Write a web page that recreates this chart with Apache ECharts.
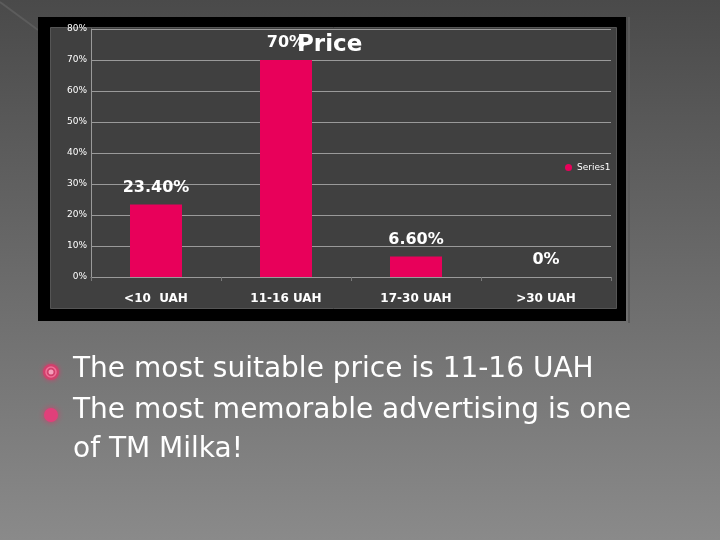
<!DOCTYPE html>
<html>
<head>
<meta charset="utf-8">
<script src="https://cdn.jsdelivr.net/npm/echarts@6/dist/echarts.min.js"></script>
<style>
html,body{margin:0;padding:0;background:#5a5a5a;}
#chart{width:720px;height:540px;}
</style>
</head>
<body>
<div id="chart"></div>
<script>
var categories = ['<10  UAH', '11-16 UAH', '17-30 UAH', '>30 UAH'];
var values = [23.4, 70, 6.6, 0];
var valueLabels = ['23.40%', '70%', '6.60%', '0%'];
var seriesName = 'Series1';
var titleText = 'Price';
var bullets = ['The most suitable price is 11-16 UAH', 'The most memorable advertising is one', 'of TM Milka!'];

var FONT = 'DejaVu Sans';
var chart = echarts.init(document.getElementById('chart'), null, {renderer: 'canvas'});

var option = {
  animation: false,
  textStyle: {fontFamily: FONT},
  graphic: [
    {type: 'rect', z: -10, shape: {x: 0, y: 0, width: 720, height: 540},
     style: {fill: {type: 'linear', x: 0, y: 0, x2: 0, y2: 1,
       colorStops: [{offset: 0, color: '#4a4a4a'}, {offset: 1, color: '#8a8a8a'}]}}},
    {type: 'line', z: -9, shape: {x1: 0, y1: 2, x2: 38, y2: 30}, style: {stroke: '#5c5c5c', lineWidth: 2}},
    {type: 'line', z: -9, shape: {x1: 629, y1: 17, x2: 629, y2: 323}, style: {stroke: '#5a5a5a', lineWidth: 2}},
    {type: 'rect', z: -8, shape: {x: 38, y: 17, width: 588, height: 304}, style: {fill: '#000000'}},
    {type: 'rect', z: -7, shape: {x: 50.5, y: 27.5, width: 566, height: 281},
     style: {fill: '#404040', stroke: '#555555', lineWidth: 1}},
    {type: 'circle', z: 5, shape: {cx: 51, cy: 372, r: 8}, style: {fill: '#d0406c', shadowBlur: 5, shadowColor: '#d0406c'}},
    {type: 'circle', z: 6, shape: {cx: 51, cy: 372, r: 5}, style: {fill: 'none', stroke: '#f07098', lineWidth: 1.5}},
    {type: 'circle', z: 6, shape: {cx: 51, cy: 372, r: 2.5}, style: {fill: '#f4a0bc'}},
    {type: 'circle', z: 5, shape: {cx: 51, cy: 415, r: 7}, style: {fill: '#e0407a', shadowBlur: 6, shadowColor: '#d0406c'}},
    {type: 'text', z: 5, left: 73, top: 356, style: {text: bullets[0], fill: '#ffffff', font: '28px "' + FONT + '"'}},
    {type: 'text', z: 5, left: 73, top: 397, style: {text: bullets[1], fill: '#ffffff', font: '28px "' + FONT + '"'}},
    {type: 'text', z: 5, left: 73, top: 436, style: {text: bullets[2], fill: '#ffffff', font: '28px "' + FONT + '"'}}
  ],
  title: {
    text: titleText, left: 292, top: 29,
    textStyle: {color: '#ffffff', fontSize: 23, fontWeight: 'bold', fontFamily: FONT}
  },
  legend: {
    data: [seriesName], left: 560, top: 158, icon: 'circle', itemWidth: 7, itemHeight: 7, itemGap: 4,
    textStyle: {color: '#ffffff', fontSize: 9, fontFamily: FONT}
  },
  grid: {left: 91, right: 109, top: 29, bottom: 263, containLabel: false},
  xAxis: {
    type: 'category', data: categories,
    axisLine: {show: true, lineStyle: {color: '#9a9a9a'}},
    axisTick: {show: true, length: 4, lineStyle: {color: '#7a7a7a'}},
    axisLabel: {color: '#ffffff', fontSize: 12, fontWeight: 'bold', margin: 16, fontFamily: FONT}
  },
  yAxis: {
    type: 'value', min: 0, max: 80, interval: 10,
    axisLine: {show: true, lineStyle: {color: '#9a9a9a'}},
    axisTick: {show: false},
    splitLine: {lineStyle: {color: '#9a9a9a', width: 1}},
    axisLabel: {color: '#ffffff', fontSize: 9, margin: 4, fontFamily: FONT,
      formatter: function (v) { return v + '%'; }}
  },
  series: [{
    name: seriesName, type: 'bar', data: values, barWidth: '40%',
    itemStyle: {color: '#e8005a'},
    label: {show: true, position: 'top', distance: 9, color: '#ffffff', fontSize: 16, fontWeight: 'bold', fontFamily: FONT,
      formatter: function (p) { return valueLabels[p.dataIndex]; }}
  }]
};
chart.setOption(option);
</script>
</body>
</html>
